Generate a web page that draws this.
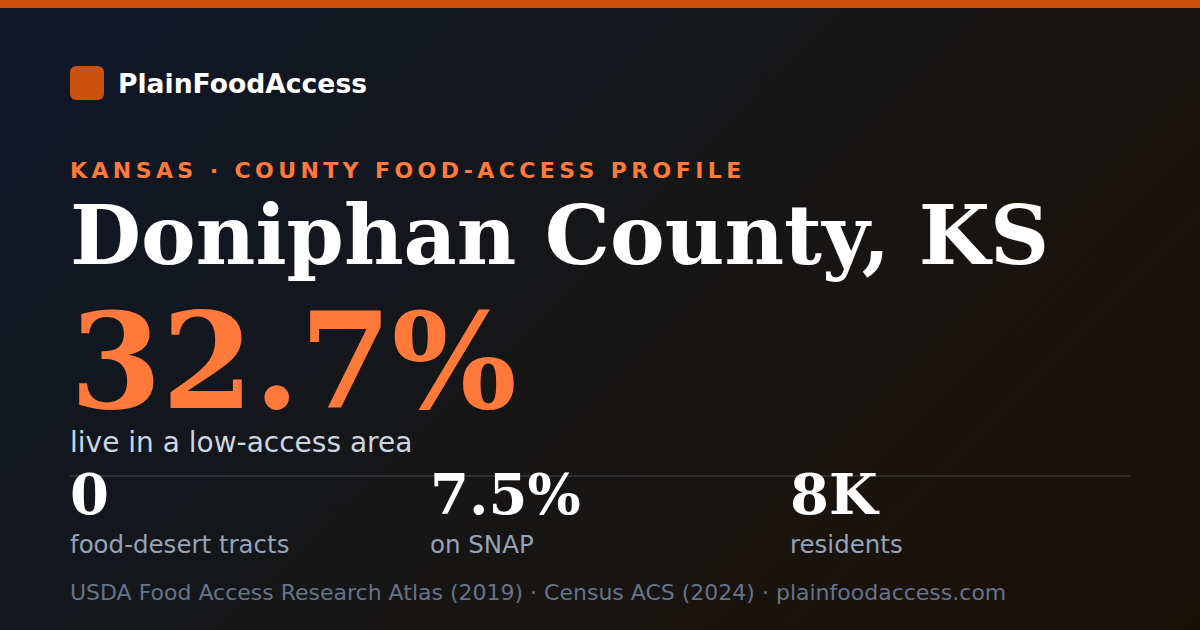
<!DOCTYPE html>
<html>
<head>
<meta charset="utf-8">
<script src="https://cdn.jsdelivr.net/npm/chart.js@4"></script>
<style>
  html, body { margin: 0; padding: 0; }
  body {
    width: 1200px; height: 630px; overflow: hidden; position: relative;
    background: linear-gradient(135deg, #0f172a 0%, #161616 50%, #1c1006 100%);
    font-family: "DejaVu Sans", sans-serif;
  }
  .topbar { position: absolute; left: 0; top: 0; width: 1200px; height: 8px; background: #cc5010; }
  .logo { position: absolute; left: 70px; top: 66px; width: 34px; height: 34px; border-radius: 6px; background: #cc5010; }
  .brand { position: absolute; left: 118px; top: 68px; font-size: 26.6px; font-weight: bold; color: #fff; line-height: 32px; white-space: nowrap; }
  .kicker { position: absolute; left: 70px; top: 157px; font-size: 22px; font-weight: bold; color: #ff7a3a; letter-spacing: 4.4px; line-height: 28px; white-space: nowrap; }
  .title { position: absolute; left: 70px; top: 187px; font-family: "DejaVu Serif", serif; font-weight: bold; font-size: 82px; color: #fff; line-height: 96px; white-space: nowrap; }
  .big { position: absolute; left: 70px; top: 302px; font-family: "DejaVu Serif", serif; font-weight: bold; font-size: 132px; color: #ff7a3a; line-height: 120px; white-space: nowrap; }
  .sub { position: absolute; left: 70px; top: 428px; font-size: 28px; color: #cbd5e1; line-height: 30px; white-space: nowrap; }
  .rule { position: absolute; left: 70px; top: 475px; width: 1060px; height: 2px; background: rgba(148,163,184,0.18); }
  .stat { position: absolute; top: 466px; width: 360px; }
  .stat .v { font-family: "DejaVu Serif", serif; font-weight: bold; font-size: 56px; color: #fff; line-height: 56px; white-space: nowrap; }
  .stat .l { font-size: 24.5px; color: #94a3b8; line-height: 28px; margin-top: 9px; white-space: nowrap; }
  .foot { position: absolute; left: 70px; top: 580px; font-size: 22px; color: #64748b; line-height: 26px; white-space: nowrap; }
</style>
</head>
<body>
<div class="topbar"></div>
<div class="logo"></div>
<div class="brand" id="brand"></div>
<div class="kicker" id="kicker"></div>
<div class="title" id="title"></div>
<div class="big" id="big"></div>
<div class="sub" id="sub"></div>
<div class="rule"></div>
<div id="stats"></div>
<div class="foot" id="foot"></div>
<script>
const brandName = 'PlainFoodAccess';
const kickerText = 'KANSAS · COUNTY FOOD-ACCESS PROFILE';
const countyName = 'Doniphan County, KS';
const headlineValue = ['32.7%'];
const headlineLabel = ['live in a low-access area'];
const statValues = ['0', '7.5%', '8K'];
const statLabels = ['food-desert tracts', 'on SNAP', 'residents'];
const sources = ['USDA Food Access Research Atlas (2019)', 'Census ACS (2024)', 'plainfoodaccess.com'];

document.getElementById('brand').textContent = brandName;
document.getElementById('kicker').textContent = kickerText;
document.getElementById('title').textContent = countyName;
document.getElementById('big').textContent = headlineValue[0];
document.getElementById('sub').textContent = headlineLabel[0];
document.getElementById('foot').textContent = sources.join(' · ');

const stats = document.getElementById('stats');
statValues.forEach((v, i) => {
  const d = document.createElement('div');
  d.className = 'stat';
  d.style.left = (70 + i * 360) + 'px';
  d.innerHTML = `<div class="v"></div><div class="l"></div>`;
  d.querySelector('.v').textContent = v;
  d.querySelector('.l').textContent = statLabels[i];
  stats.appendChild(d);
});
</script>
</body>
</html>
